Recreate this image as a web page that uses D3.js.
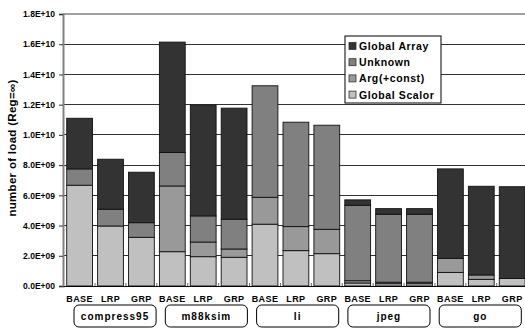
<!DOCTYPE html>
<html><head><meta charset="utf-8">
<script src="https://cdn.jsdelivr.net/npm/d3@7"></script>
<style>
body{margin:0;background:#fff}
svg{display:block}
text{font-family:"Liberation Sans",Arial,sans-serif;font-weight:bold;fill:#000}
</style></head>
<body><svg id="c" width="525" height="336"></svg>
<script>
const groups = ["compress95","m88ksim","li","jpeg","go"];
const variants = ["BASE","LRP","GRP"];
const seriesNames = ["Global Scalor","Arg(+const)","Unknown","Global Array"];
const seriesColors = ["#c0c0c0","#999999","#808080","#333333"];
// values in units of 1e9 loads, per bar (group x variant)
const globalScalor = [6.67,3.97,3.22, 2.27,1.94,1.90, 4.09,2.34,2.14, 0.20,0.15,0.15, 0.90,0.44,0.50];
const argConst     = [0.00,0.00,0.00, 4.35,0.97,0.55, 1.78,1.59,1.61, 0.15,0.10,0.10, 0.93,0.29,0.00];
const unknown      = [1.08,1.11,0.97, 2.21,1.73,1.97, 7.38,6.91,6.89, 4.99,4.50,4.50, 0.00,0.00,0.00];
const globalArray  = [3.35,3.31,3.34, 7.31,7.33,7.35, 0.00,0.00,0.00, 0.36,0.37,0.37, 5.92,5.87,6.07];
const tickValues = [0,2,4,6,8,10,12,14,16,18];
const tickLabels = ["0.0E+00","2.0E+09","4.0E+09","6.0E+09","8.0E+09","1.0E+10","1.2E+10","1.4E+10","1.6E+10","1.8E+10"];

const bars = [];
groups.forEach((g,gi)=>variants.forEach((v,vi)=>{
  const i = gi*3+vi;
  bars.push({key:g+"-"+v, group:g, variant:v,
    "Global Scalor":globalScalor[i],"Arg(+const)":argConst[i],"Unknown":unknown[i],"Global Array":globalArray[i]});
}));

const svg = d3.select("#c");
const x = d3.scaleBand().domain(bars.map(d=>d.key)).range([63,528.8]).paddingInner(0.165).paddingOuter(0.12);
const y = d3.scaleLinear().domain([0,18]).range([286,14]);
const gx = d3.scaleBand().domain(groups).range([69.4,525.9]);
const color = d3.scaleOrdinal().domain(seriesNames).range(seriesColors);

// gridlines
svg.append("g").selectAll("line").data(tickValues.filter(t=>t>0 && t<18)).join("line")
  .attr("x1",63).attr("x2",525).attr("y1",d=>y(d)).attr("y2",d=>y(d))
  .attr("stroke","#333").attr("stroke-width",1).attr("shape-rendering","crispEdges");
// top border
svg.append("line").attr("x1",63).attr("x2",525).attr("y1",y(18)).attr("y2",y(18))
  .attr("stroke","#808080").attr("stroke-width",1.5);

// bars
const stack = d3.stack().keys(seriesNames)(bars);
svg.append("g").selectAll("g").data(stack).join("g")
  .attr("fill",d=>color(d.key))
  .selectAll("rect").data(d=>d.filter(s=>s[1]-s[0]>0)).join("rect")
  .attr("x",d=>x(d.data.key)).attr("width",x.bandwidth())
  .attr("y",d=>y(d[1])).attr("height",d=>y(d[0])-y(d[1]))
  .attr("stroke","#111").attr("stroke-width",0.9);

// y axis
const yAxis = d3.axisLeft(y).tickValues(tickValues).tickSize(4).tickPadding(4)
  .tickFormat((d,i)=>tickLabels[i]);
const ya = svg.append("g").attr("transform","translate(63,0)").call(yAxis);
ya.select(".domain").attr("stroke","#808080").attr("stroke-width",2);
ya.selectAll(".tick line").attr("stroke","#333");
ya.selectAll(".tick text").style("font-size","8.5px").attr("fill","#000");

// x axis baseline
const xa = svg.append("g").attr("transform","translate(0,286)")
  .call(d3.axisBottom(x).tickSize(0).tickPadding(10));
xa.select(".domain").attr("stroke","#000").attr("stroke-width",1.2);
xa.selectAll(".tick text").text((d,i)=>bars[i].variant)
  .style("font-size","9px").style("letter-spacing","0.4px").attr("fill","#000");
// small separators at bottom
svg.append("g").selectAll("line").data(bars.slice(1)).join("line")
  .attr("x1",d=>x(d.key)-x.step()*0.0825).attr("x2",d=>x(d.key)-x.step()*0.0825)
  .attr("y1",283).attr("y2",286).attr("stroke","#666").attr("stroke-width",1);

// group boxes
const gb = svg.append("g").selectAll("g").data(groups).join("g");
gb.append("rect").attr("x",d=>gx(d)+4.6).attr("width",gx.bandwidth()-9.2)
  .attr("y",305).attr("height",22).attr("rx",5).attr("ry",5)
  .attr("fill","#fff").attr("stroke","#000").attr("stroke-width",1);
gb.append("text").attr("x",d=>gx(d)+gx.bandwidth()/2).attr("y",320)
  .attr("text-anchor","middle").style("font-size","10px").style("letter-spacing","1px")
  .text(d=>d);

// y title
svg.append("text").attr("transform","translate(16,148) rotate(-90)")
  .attr("text-anchor","middle").style("font-size","11.5px").style("letter-spacing","0.3px")
  .text("number of load (Reg=\u221E)");

// legend
const lg = svg.append("g").attr("transform","translate(345,36)");
lg.append("rect").attr("width",96).attr("height",67).attr("fill","#fff")
  .attr("stroke","#000").attr("stroke-width",1);
const items = seriesNames.slice().reverse();
const li = lg.selectAll("g").data(items).join("g")
  .attr("transform",(d,i)=>`translate(4,${10+i*16.2})`);
li.append("rect").attr("x",0).attr("y",-3.5).attr("width",7).attr("height",7)
  .attr("fill",d=>color(d)).attr("stroke","#333").attr("stroke-width",0.8);
li.append("text").attr("x",10).attr("y",4).style("font-size","10.5px")
  .style("letter-spacing","0.6px").text(d=>d);
</script></body></html>
